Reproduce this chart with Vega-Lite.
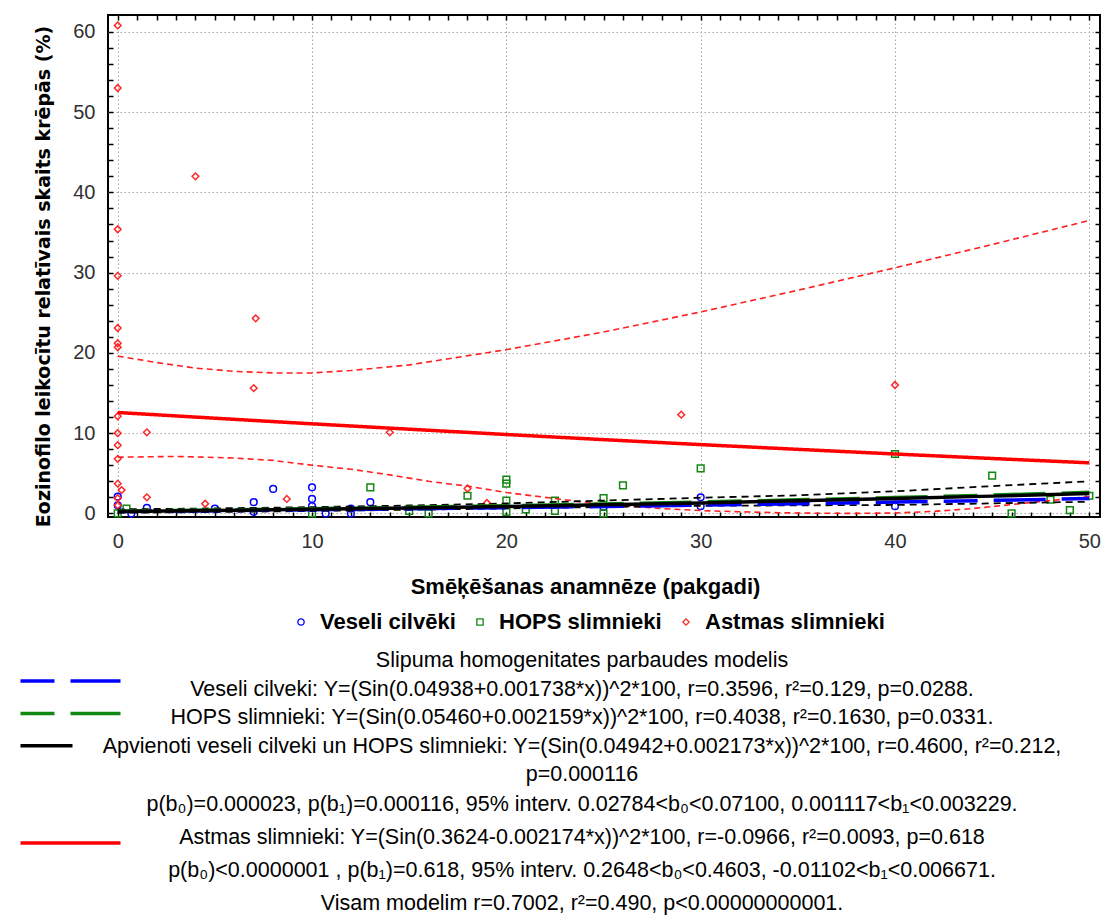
{
  "$schema": "https://vega.github.io/schema/vega-lite/v6.json",
  "width": 992,
  "height": 502,
  "autosize": "none",
  "padding": {"left": 108, "top": 15, "right": 2, "bottom": 401},
  "background": "white",
  "config": {
    "view": {"stroke": "black", "strokeWidth": 2},
    "axis": {
      "domain": false,
      "tickColor": "black",
      "tickSize": -5,
      "tickWidth": 1.5,
      "labelFont": "Liberation Sans",
      "labelFontSize": 20,
      "labelColor": "#303030",
      "gridColor": "#a8a8a8",
      "gridDash": [1.5, 2.5],
      "gridWidth": 1
    }
  },
  "datasets": {
    "points": [
      {"group": "Veseli cilvēki", "x": 0, "y": 2.1},
      {"group": "Veseli cilvēki", "x": 0, "y": 1.0},
      {"group": "Veseli cilvēki", "x": 0.7, "y": 0},
      {"group": "Veseli cilvēki", "x": 1.5, "y": 0.7},
      {"group": "Veseli cilvēki", "x": 5, "y": 0.6},
      {"group": "Veseli cilvēki", "x": 7, "y": 1.4},
      {"group": "Veseli cilvēki", "x": 7, "y": 0.2},
      {"group": "Veseli cilvēki", "x": 8, "y": 3.05},
      {"group": "Veseli cilvēki", "x": 10, "y": 3.25},
      {"group": "Veseli cilvēki", "x": 10, "y": 1.8},
      {"group": "Veseli cilvēki", "x": 10, "y": 0.9},
      {"group": "Veseli cilvēki", "x": 10.7, "y": 0},
      {"group": "Veseli cilvēki", "x": 12, "y": 0.6},
      {"group": "Veseli cilvēki", "x": 12, "y": 0},
      {"group": "Veseli cilvēki", "x": 13, "y": 1.4},
      {"group": "Veseli cilvēki", "x": 25, "y": 0.8},
      {"group": "Veseli cilvēki", "x": 30, "y": 2.0},
      {"group": "Veseli cilvēki", "x": 30, "y": 0.9},
      {"group": "Veseli cilvēki", "x": 40, "y": 0.9},
      {"group": "HOPS slimnieki", "x": 0, "y": 0},
      {"group": "HOPS slimnieki", "x": 0.45, "y": 0.6},
      {"group": "HOPS slimnieki", "x": 10, "y": 0},
      {"group": "HOPS slimnieki", "x": 13, "y": 3.25},
      {"group": "HOPS slimnieki", "x": 15, "y": 0.3},
      {"group": "HOPS slimnieki", "x": 16, "y": 0},
      {"group": "HOPS slimnieki", "x": 18, "y": 2.2},
      {"group": "HOPS slimnieki", "x": 20, "y": 4.2},
      {"group": "HOPS slimnieki", "x": 20, "y": 3.7},
      {"group": "HOPS slimnieki", "x": 20, "y": 1.6},
      {"group": "HOPS slimnieki", "x": 20, "y": 0.2},
      {"group": "HOPS slimnieki", "x": 21, "y": 0.5},
      {"group": "HOPS slimnieki", "x": 22.5, "y": 1.6},
      {"group": "HOPS slimnieki", "x": 22.5, "y": 0.3},
      {"group": "HOPS slimnieki", "x": 25, "y": 1.9},
      {"group": "HOPS slimnieki", "x": 25, "y": 0},
      {"group": "HOPS slimnieki", "x": 26, "y": 3.5},
      {"group": "HOPS slimnieki", "x": 30, "y": 5.6},
      {"group": "HOPS slimnieki", "x": 40, "y": 7.4},
      {"group": "HOPS slimnieki", "x": 45, "y": 4.7},
      {"group": "HOPS slimnieki", "x": 46, "y": 0},
      {"group": "HOPS slimnieki", "x": 48, "y": 1.7},
      {"group": "HOPS slimnieki", "x": 49, "y": 0.4},
      {"group": "HOPS slimnieki", "x": 50, "y": 2.2},
      {"group": "Astmas slimnieki", "x": 0, "y": 60.8},
      {"group": "Astmas slimnieki", "x": 0, "y": 53.0},
      {"group": "Astmas slimnieki", "x": 0, "y": 35.4},
      {"group": "Astmas slimnieki", "x": 0, "y": 29.6},
      {"group": "Astmas slimnieki", "x": 0, "y": 23.1},
      {"group": "Astmas slimnieki", "x": 0, "y": 21.2},
      {"group": "Astmas slimnieki", "x": 0, "y": 20.7},
      {"group": "Astmas slimnieki", "x": 0, "y": 12.1},
      {"group": "Astmas slimnieki", "x": 0, "y": 10.0},
      {"group": "Astmas slimnieki", "x": 0, "y": 8.5},
      {"group": "Astmas slimnieki", "x": 0, "y": 6.8},
      {"group": "Astmas slimnieki", "x": 0, "y": 3.7},
      {"group": "Astmas slimnieki", "x": 0.2, "y": 2.9},
      {"group": "Astmas slimnieki", "x": 0, "y": 1.9},
      {"group": "Astmas slimnieki", "x": 0, "y": 1.0},
      {"group": "Astmas slimnieki", "x": 1.5, "y": 10.1},
      {"group": "Astmas slimnieki", "x": 1.5, "y": 2.0},
      {"group": "Astmas slimnieki", "x": 4, "y": 42.0},
      {"group": "Astmas slimnieki", "x": 4.5, "y": 1.2},
      {"group": "Astmas slimnieki", "x": 7, "y": 15.6},
      {"group": "Astmas slimnieki", "x": 7.1, "y": 24.3},
      {"group": "Astmas slimnieki", "x": 8.7, "y": 1.8},
      {"group": "Astmas slimnieki", "x": 14, "y": 10.1},
      {"group": "Astmas slimnieki", "x": 18, "y": 3.1},
      {"group": "Astmas slimnieki", "x": 19, "y": 1.3},
      {"group": "Astmas slimnieki", "x": 29, "y": 12.3},
      {"group": "Astmas slimnieki", "x": 40, "y": 16.0}
    ],
    "fits": [
      {"fit": "Veseli", "x": 0, "y": 0.244}, {"fit": "Veseli", "x": 5, "y": 0.337}, {"fit": "Veseli", "x": 10, "y": 0.445}, {"fit": "Veseli", "x": 15, "y": 0.568}, {"fit": "Veseli", "x": 20, "y": 0.706}, {"fit": "Veseli", "x": 25, "y": 0.859}, {"fit": "Veseli", "x": 30, "y": 1.027}, {"fit": "Veseli", "x": 35, "y": 1.210}, {"fit": "Veseli", "x": 40, "y": 1.407}, {"fit": "Veseli", "x": 45, "y": 1.619}, {"fit": "Veseli", "x": 50, "y": 1.846},
      {"fit": "HOPS", "x": 0, "y": 0.298}, {"fit": "HOPS", "x": 5, "y": 0.427}, {"fit": "HOPS", "x": 10, "y": 0.579}, {"fit": "HOPS", "x": 15, "y": 0.755}, {"fit": "HOPS", "x": 20, "y": 0.953}, {"fit": "HOPS", "x": 25, "y": 1.174}, {"fit": "HOPS", "x": 30, "y": 1.418}, {"fit": "HOPS", "x": 35, "y": 1.685}, {"fit": "HOPS", "x": 40, "y": 1.974}, {"fit": "HOPS", "x": 45, "y": 2.285}, {"fit": "HOPS", "x": 50, "y": 2.619},
      {"fit": "Astmas", "x": 0, "y": 12.57}, {"fit": "Astmas", "x": 5, "y": 11.86}, {"fit": "Astmas", "x": 10, "y": 11.16}, {"fit": "Astmas", "x": 15, "y": 10.49}, {"fit": "Astmas", "x": 20, "y": 9.83}, {"fit": "Astmas", "x": 25, "y": 9.19}, {"fit": "Astmas", "x": 30, "y": 8.57}, {"fit": "Astmas", "x": 35, "y": 7.98}, {"fit": "Astmas", "x": 40, "y": 7.40}, {"fit": "Astmas", "x": 45, "y": 6.84}, {"fit": "Astmas", "x": 50, "y": 6.30},
      {"fit": "Apvienoti", "x": 0, "y": 0.244}, {"fit": "Apvienoti", "x": 5, "y": 0.363}, {"fit": "Apvienoti", "x": 10, "y": 0.505}, {"fit": "Apvienoti", "x": 15, "y": 0.671}, {"fit": "Apvienoti", "x": 20, "y": 0.860}, {"fit": "Apvienoti", "x": 25, "y": 1.072}, {"fit": "Apvienoti", "x": 30, "y": 1.308}, {"fit": "Apvienoti", "x": 35, "y": 1.566}, {"fit": "Apvienoti", "x": 40, "y": 1.847}, {"fit": "Apvienoti", "x": 45, "y": 2.151}, {"fit": "Apvienoti", "x": 50, "y": 2.478}
    ],
    "ci": [
      {"model": "Astmas", "bound": "upper", "x": 0, "y": 19.6}, {"model": "Astmas", "bound": "upper", "x": 2, "y": 18.8}, {"model": "Astmas", "bound": "upper", "x": 4, "y": 18.1}, {"model": "Astmas", "bound": "upper", "x": 6, "y": 17.7}, {"model": "Astmas", "bound": "upper", "x": 8, "y": 17.5}, {"model": "Astmas", "bound": "upper", "x": 10, "y": 17.5}, {"model": "Astmas", "bound": "upper", "x": 12, "y": 17.8}, {"model": "Astmas", "bound": "upper", "x": 15, "y": 18.5}, {"model": "Astmas", "bound": "upper", "x": 20, "y": 20.4}, {"model": "Astmas", "bound": "upper", "x": 25, "y": 22.6}, {"model": "Astmas", "bound": "upper", "x": 30, "y": 25.1}, {"model": "Astmas", "bound": "upper", "x": 35, "y": 27.8}, {"model": "Astmas", "bound": "upper", "x": 40, "y": 30.6}, {"model": "Astmas", "bound": "upper", "x": 45, "y": 33.5}, {"model": "Astmas", "bound": "upper", "x": 50, "y": 36.5},
      {"model": "Astmas", "bound": "lower", "x": 0, "y": 7.0}, {"model": "Astmas", "bound": "lower", "x": 3, "y": 7.1}, {"model": "Astmas", "bound": "lower", "x": 6, "y": 6.9}, {"model": "Astmas", "bound": "lower", "x": 8, "y": 6.6}, {"model": "Astmas", "bound": "lower", "x": 10, "y": 6.0}, {"model": "Astmas", "bound": "lower", "x": 12, "y": 5.5}, {"model": "Astmas", "bound": "lower", "x": 14, "y": 4.8}, {"model": "Astmas", "bound": "lower", "x": 16, "y": 4.0}, {"model": "Astmas", "bound": "lower", "x": 18, "y": 3.4}, {"model": "Astmas", "bound": "lower", "x": 20, "y": 2.6}, {"model": "Astmas", "bound": "lower", "x": 22, "y": 2.0}, {"model": "Astmas", "bound": "lower", "x": 24, "y": 1.4}, {"model": "Astmas", "bound": "lower", "x": 26, "y": 0.95}, {"model": "Astmas", "bound": "lower", "x": 28, "y": 0.6}, {"model": "Astmas", "bound": "lower", "x": 30, "y": 0.35}, {"model": "Astmas", "bound": "lower", "x": 32, "y": 0.2}, {"model": "Astmas", "bound": "lower", "x": 34, "y": 0.08}, {"model": "Astmas", "bound": "lower", "x": 36, "y": 0.02}, {"model": "Astmas", "bound": "lower", "x": 38, "y": 0.0}, {"model": "Astmas", "bound": "lower", "x": 40, "y": 0.05}, {"model": "Astmas", "bound": "lower", "x": 42, "y": 0.25}, {"model": "Astmas", "bound": "lower", "x": 44, "y": 0.6}, {"model": "Astmas", "bound": "lower", "x": 46, "y": 1.1}, {"model": "Astmas", "bound": "lower", "x": 48, "y": 1.6}, {"model": "Astmas", "bound": "lower", "x": 50, "y": 2.1},
      {"model": "Apvienoti", "bound": "upper", "x": 0, "y": 0.5}, {"model": "Apvienoti", "bound": "upper", "x": 5, "y": 0.62}, {"model": "Apvienoti", "bound": "upper", "x": 10, "y": 0.78}, {"model": "Apvienoti", "bound": "upper", "x": 15, "y": 0.98}, {"model": "Apvienoti", "bound": "upper", "x": 20, "y": 1.24}, {"model": "Apvienoti", "bound": "upper", "x": 25, "y": 1.6}, {"model": "Apvienoti", "bound": "upper", "x": 30, "y": 1.95}, {"model": "Apvienoti", "bound": "upper", "x": 35, "y": 2.25}, {"model": "Apvienoti", "bound": "upper", "x": 40, "y": 2.75}, {"model": "Apvienoti", "bound": "upper", "x": 45, "y": 3.4}, {"model": "Apvienoti", "bound": "upper", "x": 50, "y": 4.0},
      {"model": "Apvienoti", "bound": "lower", "x": 0, "y": 0.08}, {"model": "Apvienoti", "bound": "lower", "x": 5, "y": 0.17}, {"model": "Apvienoti", "bound": "lower", "x": 10, "y": 0.3}, {"model": "Apvienoti", "bound": "lower", "x": 15, "y": 0.45}, {"model": "Apvienoti", "bound": "lower", "x": 20, "y": 0.62}, {"model": "Apvienoti", "bound": "lower", "x": 25, "y": 0.8}, {"model": "Apvienoti", "bound": "lower", "x": 30, "y": 0.95}, {"model": "Apvienoti", "bound": "lower", "x": 35, "y": 1.0}, {"model": "Apvienoti", "bound": "lower", "x": 40, "y": 1.05}, {"model": "Apvienoti", "bound": "lower", "x": 45, "y": 1.25}, {"model": "Apvienoti", "bound": "lower", "x": 50, "y": 1.45}
    ]
  },
  "title": {
    "text": [
      "Slipuma homogenitates parbaudes modelis",
      "Veseli cilveki: Y=(Sin(0.04938+0.001738*x))^2*100, r=0.3596, r²=0.129, p=0.0288.",
      "HOPS slimnieki: Y=(Sin(0.05460+0.002159*x))^2*100, r=0.4038, r²=0.1630, p=0.0331.",
      "Apvienoti veseli cilveki un HOPS slimnieki: Y=(Sin(0.04942+0.002173*x))^2*100, r=0.4600, r²=0.212,",
      "p=0.000116"
    ],
    "subtitle": [
      "p(b₀)=0.000023, p(b₁)=0.000116, 95% interv. 0.02784<b₀<0.07100, 0.001117<b₁<0.003229.",
      "Astmas slimnieki: Y=(Sin(0.3624-0.002174*x))^2*100, r=-0.0966, r²=0.0093, p=0.618",
      "p(b₀)<0.0000001 , p(b₁)=0.618, 95% interv. 0.2648<b₀<0.4603, -0.01102<b₁<0.006671.",
      "Visam modelim r=0.7002, r²=0.490, p<0.00000000001."
    ],
    "orient": "bottom",
    "anchor": "middle",
    "frame": "group",
    "font": "Liberation Sans Narrow, Liberation Sans, sans-serif",
    "fontSize": 21.5,
    "fontWeight": "normal",
    "color": "black",
    "lineHeight": 28.5,
    "subtitleFont": "Liberation Sans Narrow, Liberation Sans, sans-serif",
    "subtitleFontSize": 21.5,
    "subtitleFontWeight": "normal",
    "subtitleColor": "black",
    "subtitleLineHeight": 33.2,
    "subtitlePadding": 8,
    "offset": -200,
    "dx": -22
  },
  "layer": [
    {
      "data": {"name": "points"},
      "mark": {"type": "point", "filled": false, "size": 45, "strokeWidth": 1.5, "opacity": 1},
      "encoding": {
        "x": {
          "field": "x", "type": "quantitative",
          "scale": {"domain": [-0.5, 50.55], "nice": false, "zero": false},
          "axis": {
            "orient": "bottom",
            "values": [0,1,2,3,4,5,6,7,8,9,10,11,12,13,14,15,16,17,18,19,20,21,22,23,24,25,26,27,28,29,30,31,32,33,34,35,36,37,38,39,40,41,42,43,44,45,46,47,48,49,50],
            "labelExpr": "datum.value % 10 === 0 ? datum.label : ''",
            "labelOverlap": false,
            "labelFlush": false,
            "labelPadding": 19,
            "grid": true,
            "gridOpacity": {"condition": {"test": "datum.value % 10 === 0", "value": 1}, "value": 0},
            "title": "Smēķēšanas anamnēze (pakgadi)",
            "titleFont": "Liberation Sans Narrow, Liberation Sans, sans-serif",
            "titleFontSize": 22,
            "titleFontWeight": "bold",
            "titleColor": "black",
            "titlePadding": 25,
            "titleX": 477
          }
        },
        "y": {
          "field": "y", "type": "quantitative",
          "scale": {"domain": [-0.45, 62.1], "nice": false, "zero": false},
          "axis": {
            "orient": "left",
            "values": [0,2,4,6,8,10,12,14,16,18,20,22,24,26,28,30,32,34,36,38,40,42,44,46,48,50,52,54,56,58,60],
            "labelExpr": "datum.value % 10 === 0 ? datum.label : ''",
            "labelOverlap": false,
            "labelFlush": false,
            "labelPadding": 18,
            "grid": true,
            "gridOpacity": {"condition": {"test": "datum.value % 10 === 0", "value": 1}, "value": 0},
            "title": "Eozinofilo leikocītu relatīvais skaits krēpās (%)",
            "titleFont": "DejaVu Sans",
            "titleFontSize": 19,
            "titleFontWeight": "bold",
            "titleColor": "black",
            "titlePadding": 19,
            "titleY": 261
          }
        },
        "shape": {
          "field": "group", "type": "nominal",
          "scale": {"domain": ["Veseli cilvēki", "HOPS slimnieki", "Astmas slimnieki"], "range": ["circle", "square", "diamond"]},
          "legend": {
            "orient": "none", "direction": "horizontal", "legendX": 182, "legendY": 596,
            "title": null, "padding": 0,
            "labelFont": "Liberation Sans Narrow, Liberation Sans, sans-serif",
            "labelFontSize": 22, "labelFontWeight": "bold", "labelColor": "black",
            "symbolSize": 40, "symbolStrokeWidth": 1.3, "columnPadding": 13, "labelOffset": 8, "labelLimit": 300
          }
        },
        "stroke": {
          "field": "group", "type": "nominal",
          "scale": {"domain": ["Veseli cilvēki", "HOPS slimnieki", "Astmas slimnieki"], "range": ["#0000ff", "#118811", "#ff2828"]},
          "legend": {
            "orient": "none", "direction": "horizontal", "legendX": 182, "legendY": 596,
            "title": null, "padding": 0,
            "labelFont": "Liberation Sans Narrow, Liberation Sans, sans-serif",
            "labelFontSize": 22, "labelFontWeight": "bold", "labelColor": "black",
            "symbolSize": 40, "symbolStrokeWidth": 1.3, "columnPadding": 13, "labelOffset": 8, "labelLimit": 300
          }
        }
      }
    },
    {
      "data": {"name": "ci"},
      "transform": [{"filter": "datum.model === 'Astmas'"}],
      "mark": {"type": "line", "color": "#ff2020", "strokeWidth": 1.6, "strokeDash": [6, 4]},
      "encoding": {
        "x": {
          "field": "x", "type": "quantitative",
          "scale": {"domain": [-0.5, 50.55], "nice": false, "zero": false},
          "axis": {
            "orient": "top",
            "values": [0,1,2,3,4,5,6,7,8,9,10,11,12,13,14,15,16,17,18,19,20,21,22,23,24,25,26,27,28,29,30,31,32,33,34,35,36,37,38,39,40,41,42,43,44,45,46,47,48,49,50],
            "labels": false, "grid": false, "title": null
          }
        },
        "y": {
          "field": "y", "type": "quantitative",
          "scale": {"domain": [-0.45, 62.1], "nice": false, "zero": false},
          "axis": {
            "orient": "right",
            "values": [0,2,4,6,8,10,12,14,16,18,20,22,24,26,28,30,32,34,36,38,40,42,44,46,48,50,52,54,56,58,60],
            "labels": false, "grid": false, "title": null
          }
        },
        "detail": {"field": "bound", "type": "nominal"}
      }
    },
    {
      "data": {"name": "ci"},
      "transform": [{"filter": "datum.model === 'Apvienoti'"}],
      "mark": {"type": "line", "color": "black", "strokeWidth": 1.8, "strokeDash": [7, 5]},
      "encoding": {
        "x": {"field": "x", "type": "quantitative", "scale": {"domain": [-0.5, 50.55], "nice": false, "zero": false}, "axis": null},
        "y": {"field": "y", "type": "quantitative", "scale": {"domain": [-0.45, 62.1], "nice": false, "zero": false}, "axis": null},
        "detail": {"field": "bound", "type": "nominal"}
      }
    },
    {
      "data": {"name": "fits"},
      "transform": [{"filter": "datum.fit !== 'Apvienoti'"}],
      "mark": {"type": "line", "strokeWidth": 3.5},
      "encoding": {
        "x": {"field": "x", "type": "quantitative", "scale": {"domain": [-0.5, 50.55], "nice": false, "zero": false}, "axis": null},
        "y": {"field": "y", "type": "quantitative", "scale": {"domain": [-0.45, 62.1], "nice": false, "zero": false}, "axis": null},
        "color": {
          "field": "fit", "type": "nominal",
          "scale": {"domain": ["Veseli", "HOPS", "Apvienoti", "_a", "_b", "Astmas"], "range": ["#0000ff", "#118811", "black", "white", "white", "#ff0000"]},
          "legend": {
            "orient": "none", "direction": "vertical", "legendX": -49.5, "legendY": 654,
            "title": null, "padding": 0,
            "symbolType": "M-5,0H5", "symbolSize": 400, "symbolStrokeWidth": 3.5,
            "labelExpr": "''", "labelFontSize": 12, "rowPadding": 13.4
          }
        },
        "strokeDash": {
          "field": "fit", "type": "nominal",
          "scale": {"domain": ["Veseli", "HOPS", "Apvienoti", "_a", "_b", "Astmas"], "range": [[34, 16, 52, 16], [34, 16, 52, 16], [52, 300], [1, 0], [1, 0], [1, 0]]},
          "legend": {
            "orient": "none", "direction": "vertical", "legendX": -49.5, "legendY": 654,
            "title": null, "padding": 0,
            "symbolType": "M-5,0H5", "symbolSize": 400, "symbolStrokeWidth": 3.5,
            "labelExpr": "''", "labelFontSize": 12, "rowPadding": 13.4
          }
        }
      }
    },
    {
      "data": {"name": "fits"},
      "transform": [{"filter": "datum.fit === 'Apvienoti'"}],
      "mark": {"type": "line", "strokeWidth": 3.5, "color": "black"},
      "encoding": {
        "x": {"field": "x", "type": "quantitative", "scale": {"domain": [-0.5, 50.55], "nice": false, "zero": false}, "axis": null},
        "y": {"field": "y", "type": "quantitative", "scale": {"domain": [-0.45, 62.1], "nice": false, "zero": false}, "axis": null}
      }
    }
  ],
  "resolve": {"axis": {"x": "independent", "y": "independent"}}
}
